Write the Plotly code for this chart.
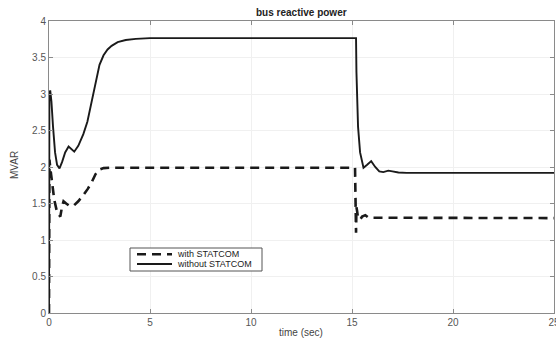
import plotly.graph_objects as go

# ---- data ----
t_without = [0, 0.02, 0.06, 0.12, 0.2, 0.3, 0.4, 0.52, 0.65, 0.8, 0.97, 1.1, 1.25,
             1.45, 1.7, 1.9, 2.1, 2.3, 2.5, 2.7, 2.9, 3.1, 3.4, 3.8, 4.3, 5.0,
             15.2, 15.22, 15.25, 15.3, 15.4, 15.57, 15.75, 15.95, 16.15, 16.35,
             16.55, 16.8, 17.0, 17.3, 17.7, 25.0]
q_without = [0, 3.0, 3.05, 2.9, 2.55, 2.2, 2.03, 1.98, 2.07, 2.2, 2.28, 2.25, 2.21,
             2.29, 2.45, 2.62, 2.88, 3.13, 3.4, 3.53, 3.61, 3.66, 3.71, 3.74, 3.755, 3.765,
             3.765, 3.3, 2.78, 2.55, 2.2, 1.99, 2.03, 2.08, 2.0, 1.94,
             1.93, 1.95, 1.94, 1.925, 1.92, 1.92]

t_with = [0, 0.02, 0.08, 0.15, 0.26, 0.4, 0.56, 0.64, 0.72, 0.85, 1.0, 1.22, 1.45,
          1.71, 1.92, 2.13, 2.3, 2.46, 2.7, 3.0,
          15.15, 15.2, 15.22, 15.25, 15.3, 15.4, 15.5, 15.66, 15.8, 16.0, 25.0]
q_with = [0, 2.1, 1.95, 1.8, 1.55, 1.38, 1.32, 1.45, 1.53, 1.5, 1.47, 1.47, 1.53,
          1.62, 1.7, 1.8, 1.9, 1.96, 1.985, 1.99,
          1.99, 1.1, 1.45, 1.4, 1.3, 1.28, 1.32, 1.34, 1.31, 1.305, 1.30]

x_ticks = [0, 5, 10, 15, 20, 25]
y_ticks = [0, 0.5, 1, 1.5, 2, 2.5, 3, 3.5, 4]
y_tick_labels = ["0", "0.5", "1", "1.5", "2", "2.5", "3", "3.5", "4"]
series_names = ["with STATCOM", "without STATCOM"]
title_text = "bus reactive power"
x_title = "time (sec)"
y_title = "MVAR"

# ---- layout geometry (pixels) ----
W, H = 556, 342
ML, MR, MT, MB = 49, 2, 21, 29
PW, PH = W - ML - MR, H - MT - MB


def px(xp):
    return (xp - ML) / PW


def py(yp):
    return (H - MB - yp) / PH


FONT = "Liberation Sans, Arial, sans-serif"
LINE_COLOR = "#1a1a1a"
styles = [dict(color=LINE_COLOR, width=2.6, dash="9px,6px"),
          dict(color=LINE_COLOR, width=1.9, dash="solid")]

fig = go.Figure()
fig.add_trace(go.Scatter(x=t_with, y=q_with, mode="lines", name=series_names[0],
                         line=styles[0], showlegend=False))
fig.add_trace(go.Scatter(x=t_without, y=q_without, mode="lines", name=series_names[1],
                         line=styles[1], showlegend=False))

axis_common = dict(showline=True, linecolor="#8a8a8a", linewidth=1, mirror="ticks",
                   ticks="inside", ticklen=4, tickcolor="#8a8a8a", automargin=False,
                   ticklabeloverflow="allow",
                   showgrid=True, gridcolor="#f0f0f0", gridwidth=1, zeroline=False,
                   tickfont=dict(family=FONT, size=10, color="#555"))

shapes = []
annotations = []

# manual legend box
shapes.append(dict(type="rect", xref="paper", yref="paper", layer="above",
                   x0=px(130), x1=px(262), y0=py(271), y1=py(248),
                   line=dict(color="#555", width=1), fillcolor="white"))
row_y = [254.3, 264.0]
for i, name in enumerate(series_names):
    shapes.append(dict(type="line", xref="paper", yref="paper", layer="above",
                       x0=px(137), x1=px(172), y0=py(row_y[i]), y1=py(row_y[i]),
                       line=styles[i]))
    annotations.append(dict(text=name, xref="paper", yref="paper",
                            x=px(175), y=py(row_y[i]), xanchor="left", yanchor="middle",
                            showarrow=False, font=dict(family=FONT, size=9, color="#222")))

# titles
annotations.append(dict(text="<b>%s</b>" % title_text, xref="paper", yref="paper",
                        x=px(301), y=py(13), xanchor="center", yanchor="middle",
                        showarrow=False, font=dict(family=FONT, size=10, color="#222")))
annotations.append(dict(text=x_title, xref="paper", yref="paper",
                        x=px(301), y=py(332), xanchor="center", yanchor="middle",
                        showarrow=False, font=dict(family=FONT, size=10, color="#444")))
annotations.append(dict(text=y_title, xref="paper", yref="paper", textangle=-90,
                        x=px(14), y=py(165), xanchor="center", yanchor="middle",
                        showarrow=False, font=dict(family=FONT, size=10, color="#444")))

fig.update_layout(
    width=W, height=H,
    margin=dict(l=ML, r=MR, t=MT, b=MB),
    paper_bgcolor="white", plot_bgcolor="white",
    xaxis=dict(range=[0, 25], tickvals=x_ticks, **axis_common),
    yaxis=dict(range=[0, 4], tickvals=y_ticks, ticktext=y_tick_labels, **axis_common),
    showlegend=False,
    shapes=shapes,
    annotations=annotations,
)

fig.write_html("out.html", config={"displayModeBar": False},
               post_script="document.body.style.margin='0';document.body.style.overflow='hidden';")
